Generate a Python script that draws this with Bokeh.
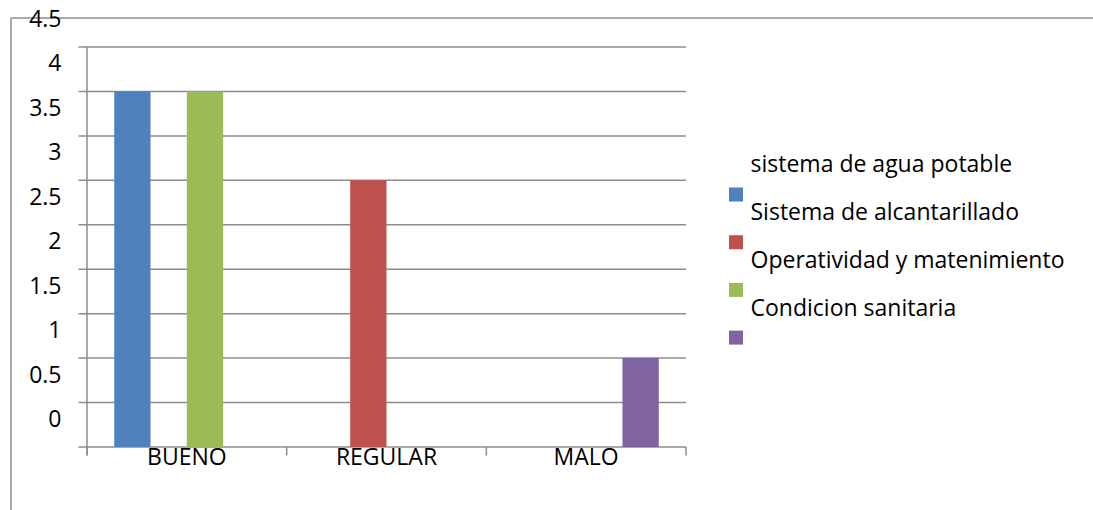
from bokeh.plotting import figure
from bokeh.models import Range1d, ColumnDataSource
from bokeh.core.properties import value
from bokeh.embed import file_html
from bokeh.resources import INLINE

# --- data -------------------------------------------------------------
categories = ["BUENO", "REGULAR", "MALO"]
series_names = [
    "sistema de agua potable",
    "Sistema de alcantarillado",
    "Operatividad y matenimiento",
    "Condicion sanitaria",
]
series_colors = ["#4F81BD", "#C0504D", "#9BBB59", "#8064A2"]
agua_potable = [4, 0, 0]
alcantarillado = [0, 3, 0]
operatividad = [4, 0, 0]
condicion_sanitaria = [0, 0, 1]
series_values = [agua_potable, alcantarillado, operatividad, condicion_sanitaria]
y_ticks = [0, 0.5, 1, 1.5, 2, 2.5, 3, 3.5, 4, 4.5]
y_tick_labels = ["0", "0.5", "1", "1.5", "2", "2.5", "3", "3.5", "4", "4.5"]

# --- page geometry (pixels) -------------------------------------------
W, H = 1093, 510
AX_LEFT, AX_RIGHT = 86.5, 685.5      # plot area, left/right edges
AX_TOP, AX_BOTTOM = 46.5, 446.5      # plot area, top/bottom edges
Y_MAX = y_ticks[-1]
N_CAT = len(categories)

SX = (AX_RIGHT - AX_LEFT) / N_CAT    # pixels per category
SY = (AX_BOTTOM - AX_TOP) / Y_MAX    # pixels per value unit


def fx(px):
    """canvas x pixel -> data x"""
    return (px - AX_LEFT) / SX


def fy(py):
    """canvas y pixel -> data y"""
    return (AX_BOTTOM - py) / SY


FONT = value("Open Sans")
FONT_SIZE = "23px"
GRID_COLOR = "#8C8C8C"

p = figure(
    width=W, height=H,
    x_range=Range1d(fx(0), fx(W)), y_range=Range1d(fy(H), fy(0)),
    x_axis_location=None, y_axis_location=None,
    toolbar_location=None, tools="",
    output_backend="svg",
    min_border=0,
)
p.grid.visible = False
p.outline_line_color = None
p.background_fill_color = "white"
p.border_fill_color = "white"

# outer chart border (left and top edges)
p.segment(x0=[fx(10.5), fx(10.5)], y0=[fy(17.5), fy(17.5)],
          x1=[fx(10.5), fx(W)], y1=[fy(H), fy(17.5)],
          line_color=GRID_COLOR, line_width=1.5)

# horizontal gridlines, extended left as tick marks
tick_len_x = 8.5 / SX
p.segment(x0=[-tick_len_x] * len(y_ticks), y0=y_ticks,
          x1=[N_CAT] * len(y_ticks), y1=y_ticks,
          line_color=GRID_COLOR, line_width=1.5)

# vertical axis line and category boundary ticks
tick_len_y = 8.5 / SY
p.segment(x0=[0], y0=[-tick_len_y], x1=[0], y1=[Y_MAX],
          line_color=GRID_COLOR, line_width=1.5)
bounds = list(range(N_CAT + 1))
p.segment(x0=bounds, y0=[0] * len(bounds), x1=bounds, y1=[-tick_len_y] * len(bounds),
          line_color=GRID_COLOR, line_width=1.5)

# clustered bars: 4 slots per category, gap = 1.5 bar widths
n_series = len(series_names)
bar_w = 1.0 / (n_series + 1.5)
for i, (vals, color) in enumerate(zip(series_values, series_colors)):
    xs, tops = [], []
    for c, v in enumerate(vals):
        if v:
            xs.append(c + 0.5 + (i - (n_series - 1) / 2) * bar_w)
            tops.append(v)
    src = ColumnDataSource(dict(x=xs, top=tops))
    p.vbar(x="x", top="top", bottom=0, width=bar_w, source=src,
           fill_color=color, line_color=None)

# value labels of the vertical axis
p.text(x=[0] * len(y_ticks), y=y_ticks, text=y_tick_labels,
       x_offset=-25.5, y_offset=-28.5,
       text_align="right", text_baseline="middle",
       text_font=FONT, text_font_size=FONT_SIZE, text_color="black")

# category labels
p.text(x=[c + 0.5 for c in range(N_CAT)], y=[0] * N_CAT, text=categories,
       y_offset=8.5, text_align="center", text_baseline="middle",
       text_font=FONT, text_font_size=FONT_SIZE, text_color="black")

# legend
p.text(x=[fx(750)] * n_series, y=[fy(162 + 48 * i) for i in range(n_series)],
       text=series_names, text_align="left", text_baseline="middle",
       text_font=FONT, text_font_size=FONT_SIZE, text_color="black")
p.scatter(x=[fx(735.5)] * n_series, y=[fy(194 + 47.7 * i) for i in range(n_series)],
          marker="square", size=14, fill_color=series_colors, line_color=None)

open("out.html", "w").write(file_html(p, INLINE))
